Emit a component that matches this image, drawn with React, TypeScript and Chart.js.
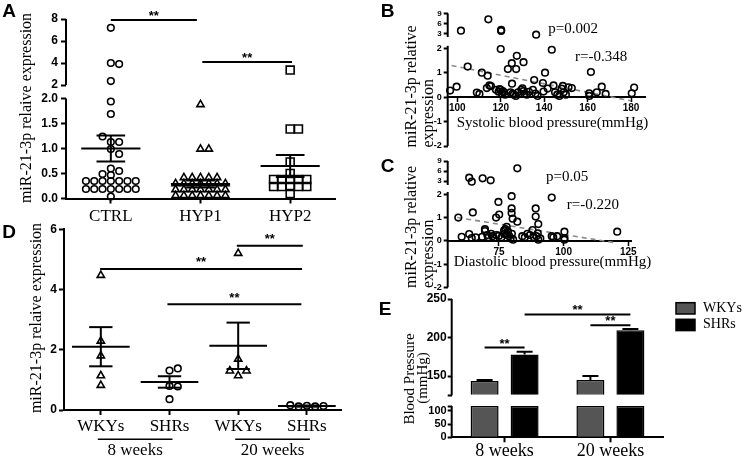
import React, { useEffect, useRef } from 'react';
import { Chart, registerables } from 'chart.js';

Chart.register(...registerables);

const SANS = '"Liberation Sans", Arial, Helvetica, sans-serif';
const SERIF = '"Liberation Serif", "Times New Roman", Times, serif';
const INK = '#000000';
const bold = (px: number) => `bold ${px}px ${SANS}`;
const serif = (px: number) => `${px}px ${SERIF}`;

// ---------------- Panel A data ----------------
const aCategories = ['CTRL', 'HYP1', 'HYP2'];
const aCtrl = [0.35, 0.35, 0.35, 0.35, 0.35, 0.35, 0.35, 0.19, 0.19, 0.19, 0.19, 0.19, 0.19, 0.19, 0.04,
  7.2, 4.0, 3.9, 2.36, 1.94, 1.69, 1.13, 1.13, 1.24, 0.99, 0.89, 0.6, 0.55, 0.49, 0.47];
const aHyp1 = [0.42, 0.42, 0.42, 0.42, 0.42, 0.3, 0.3, 0.3, 0.3, 0.3, 0.3, 0.3, 0.18, 0.18, 0.18, 0.18, 0.18, 0.18, 0.18,
  0.06, 0.06, 0.06, 0.06, 0.06, 0.06, 0.06, 1.88, 0.99, 0.99];
const aHyp2 = [0.38, 0.38, 0.38, 0.38, 0.38, 0.24, 0.24, 0.24, 0.24, 0.24, 0.1, 3.36, 1.39, 1.39, 0.73, 0.5];
const aMeans = [1.0, 0.29, 0.65];
const aSems = [0.26, 0.07, 0.22];
const aLowerTicks = [0, 0.5, 1, 1.5, 2];
const aUpperTicks = [2, 4, 6, 8];
const aBreak = 2.05;
const aSig = [
  { from: 1, to: 1.96, y: 7.9 },
  { from: 2.02, to: 3.02, y: 4.1 },
];

// ---------------- Panel B data ----------------
const bSystolic = [96.7, 99.7, 101.7, 104.8, 109, 110.2, 111.3, 113.6, 114, 114.3, 114.8, 115.5, 117.8, 120.2, 120.2,
  120, 119, 120, 120.5, 121, 122, 119.5, 121.5, 123.3, 125.1, 127.4, 127.1, 130.5, 125.2, 124.5, 125.5, 126, 128,
  129.5, 130, 130.5, 131, 132, 127, 134.8, 135.4, 136.3, 136, 137, 133, 139.7, 140.4, 139.4, 143.5, 141.6, 144.3,
  145, 146, 147, 148.6, 149, 150, 151.2, 152.7, 148, 161.5, 160.7, 160.8, 164.2, 166.5, 168.3, 180.3, 181.4];
const bExpression = [0.27, 0.43, 3.8, 1.25, 0.19, 0.13, 1.0, 0.37, 0.88, 7.2, 0.48, 0.45, 0.3, 4.0, 3.7,
  1.97, 0.22, 0.3, 0.15, 0.25, 0.1, 0.33, 0.2, 1.15, 1.39, 1.69, 1.15, 1.43, 0.55, 0.2, 0.15, 0.1, 0.2,
  0.3, 0.36, 0.25, 0.15, 0.1, 0.05, 0.3, 0.7, 2.6, 0.15, 0.05, 0.22, 0.23, 1.0, 0.58, 1.94, 0.35, 0.48,
  0.2, 0.1, 0.05, 0.46, 0.2, 0.1, 0.4, 0.37, 0.35, 1.03, 0.16, 0.05, 0.2, 0.43, 0.13, 0.16, 0.39];
const bXTicks = [100, 120, 140, 160, 180];
const bLowerTicks = [-2, -1, 0, 1, 2];
const bUpperTicks = [3, 6, 9];
const bRegression = { slope: -0.01752, intercept: 3.0, from: 97.4, to: 180 };

// ---------------- Panel C data ----------------
const cDiastolic = [59.3, 60.6, 63.5, 64.5, 68.7, 71.8, 82.1, 63.5, 64.9, 64.5, 66, 68.5, 69.6, 69.6, 70.5, 71, 72,
  72.5, 73, 74, 73.9, 75.1, 74.8, 75, 76, 77, 77.5, 78, 78.5, 79, 79.5, 80, 80.5, 78, 77, 79.9, 79.9, 79.9, 80.3,
  82.1, 84, 85, 86, 87, 88, 88.5, 89.2, 89.2, 90.2, 90, 90.2, 89.5, 91, 95.4, 95.4, 96, 97.5, 100.3, 100.3, 100.3, 120.7];
const cExpression = [1.0, 0.17, 4.0, 2.8, 3.8, 3.2, 6.8, 0.29, 1.22, 0.12, 0.15, 0.17, 0.5, 0.42, 0.25, 0.15, 0.3,
  0.2, 0.12, 0.25, 1.0, 1.13, 1.67, 0.22, 0.15, 0.3, 0.5, 0.6, 0.4, 0.2, 0.1, 0.3, 0.05, 0.25, 0.45, 1.92, 1.39, 1.2, 0.95,
  0.82, 0.2, 0.15, 0.3, 0.25, 0.46, 0.15, 1.39, 1.04, 0.72, 0.32, 0.05, 0.2, 0.1, 1.86, 0.2, 0.15, 0.2, 0.39, 0.12, 0.05, 0.39];
const cXTicks = [75, 100, 125];
const cLowerTicks = [-2, -1, 0, 1, 2];
const cUpperTicks = [3, 6, 9];
const cRegression = { slope: -0.01777, intercept: 2.047, from: 58.9, to: 119.1 };
const bcBreak = 2.3;

// ---------------- Panel D data ----------------
const dCategories = ['WKYs', 'SHRs', 'WKYs', 'SHRs'];
const dGroups = ['8 weeks', '20 weeks'];
const dWky8 = [4.47, 2.29, 1.8, 1.14, 0.82];
const dShr8 = [1.31, 1.38, 0.8, 0.78, 0.36];
const dWky20 = [5.2, 1.69, 1.14, 1.3, 1.3];
const dShr20 = [0.14, 0.12, 0.12, 0.13, 0.16];
const dMeans = [2.1, 0.93, 2.13, 0.13];
const dSems = [0.65, 0.19, 0.77, 0.02];
const dYTicks = [0, 2, 4, 6];
const dSig = [
  { from: 2.98, to: 3.94, y: 5.45 },
  { from: 0.99, to: 3.93, y: 4.68 },
  { from: 1.97, to: 3.92, y: 3.51 },
];

// ---------------- Panel E data ----------------
const eCategories = ['8 weeks', '20 weeks'];
const eSeries = ['WKYs', 'SHRs'];
const eWky = [143.5, 145];
const eWkyErr = [1.5, 5];
const eShr = [178, 209.5];
const eShrErr = [3.5, 1.5];
const eUpperTicks = [125, 150, 200, 250];
const eLowerTicks = [0, 50, 100, 119];
const eBreakLow = 119;
const eBreakHigh = 125;
const eSig = [
  { a: [0, 0], b: [0, 1], y: 187 },
  { a: [0, 1], b: [1, 1], y: 230 },
  { a: [1, 0], b: [1, 1], y: 216 },
];

// ---------------- helpers ----------------
type Txt = { text: string; x: number; y: number; font: string; align?: CanvasTextAlign; baseline?: CanvasTextBaseline; rotate?: boolean };

const textPlugin = (items: Txt[]) => ({
  id: 'texts',
  afterDraw(chart: any) {
    const ctx = chart.ctx as CanvasRenderingContext2D;
    ctx.save();
    ctx.fillStyle = INK;
    for (const t of items) {
      ctx.save();
      ctx.font = t.font;
      ctx.textAlign = t.align ?? 'center';
      ctx.textBaseline = t.baseline ?? 'middle';
      ctx.translate(t.x, t.y);
      if (t.rotate) ctx.rotate(-Math.PI / 2);
      ctx.fillText(t.text, 0, 0);
      ctx.restore();
    }
    ctx.restore();
  },
});

const axisLinesPlugin = (segs: { axis: string; from: number; to: number }[]) => ({
  id: 'axisLines',
  afterDatasetsDraw(chart: any) {
    const ctx = chart.ctx as CanvasRenderingContext2D;
    const x = chart.chartArea.left;
    ctx.save();
    ctx.strokeStyle = INK;
    ctx.lineWidth = 2;
    for (const s of segs) {
      const sc = chart.scales[s.axis];
      ctx.beginPath();
      ctx.moveTo(x, sc.getPixelForValue(s.from));
      ctx.lineTo(x, sc.getPixelForValue(s.to));
      ctx.stroke();
    }
    ctx.restore();
  },
});

const meanSemPlugin = (means: number[], sems: number[], meanHalf: number, capHalf: number) => ({
  id: 'meanSem',
  afterDatasetsDraw(chart: any) {
    const ctx = chart.ctx as CanvasRenderingContext2D;
    const xs = chart.scales.x;
    const ys = chart.scales.y;
    const seg = (x1: number, y1: number, x2: number, y2: number) => {
      ctx.beginPath();
      ctx.moveTo(xs.getPixelForValue(x1), ys.getPixelForValue(y1));
      ctx.lineTo(xs.getPixelForValue(x2), ys.getPixelForValue(y2));
      ctx.stroke();
    };
    ctx.save();
    ctx.strokeStyle = INK;
    ctx.lineWidth = 2;
    means.forEach((m, i) => {
      const c = i + 1;
      const s = sems[i];
      seg(c - meanHalf, m, c + meanHalf, m);
      seg(c, m - s, c, m + s);
      seg(c - capHalf, m + s, c + capHalf, m + s);
      seg(c - capHalf, m - s, c + capHalf, m - s);
    });
    ctx.restore();
  },
});

const sigPlugin = (sigs: { from: number; to: number; y: number }[], axis: string, raise: number) => ({
  id: 'sig',
  afterDraw(chart: any) {
    const ctx = chart.ctx as CanvasRenderingContext2D;
    const xs = chart.scales.x;
    const ys = chart.scales[axis];
    ctx.save();
    ctx.strokeStyle = INK;
    ctx.fillStyle = INK;
    ctx.lineWidth = 2;
    ctx.font = bold(13);
    ctx.textAlign = 'center';
    ctx.textBaseline = 'alphabetic';
    for (const s of sigs) {
      const x1 = xs.getPixelForValue(s.from);
      const x2 = xs.getPixelForValue(s.to);
      const y = ys.getPixelForValue(s.y);
      ctx.beginPath();
      ctx.moveTo(x1, y);
      ctx.lineTo(x2, y);
      ctx.stroke();
      ctx.fillText('**', (x1 + x2) / 2, y - raise);
    }
    ctx.restore();
  },
});

function swarm(chart: any, values: number[], center: number, axisOf: (v: number) => string, step: number, minDist: number) {
  const xs = chart.scales.x;
  const cx = xs.getPixelForValue(center);
  const placed: { x: number; y: number }[] = [];
  return values.map((v) => {
    const py = chart.scales[axisOf(v)].getPixelForValue(v);
    let px = cx;
    for (let k = 0; k < 80; k++) {
      const n = k === 0 ? 0 : k % 2 === 1 ? (k + 1) / 2 : -k / 2;
      const cand = cx + n * step;
      if (placed.every((p) => Math.hypot(p.x - cand, p.y - py) >= minDist)) {
        px = cand;
        break;
      }
    }
    placed.push({ x: px, y: py });
    return xs.getValueForPixel(px) as number;
  });
}

function yAxis(o: {
  min: number; max: number; ticks: number[]; fmt: (v: number) => string; size: number; width: number;
  tickLength: number; pad: number; stackWeight?: number; order?: number; border?: boolean;
}) {
  const stackOpts = o.stackWeight !== undefined ? { stack: 'left', stackWeight: o.stackWeight, weight: o.order } : {};
  return {
    type: 'linear',
    position: 'left',
    bounds: 'data',
    ...stackOpts,
    min: o.min,
    max: o.max,
    border: { display: !!o.border, width: 2, color: INK },
    grid: { display: true, drawOnChartArea: false, drawTicks: true, tickLength: o.tickLength, tickWidth: 2, tickColor: INK },
    ticks: {
      autoSkip: false, padding: o.pad, color: INK,
      font: { family: SANS, size: o.size, weight: 'bold' },
      callback: (v: any) => o.fmt(Number(v)),
    },
    afterBuildTicks: (s: any) => { s.ticks = o.ticks.map((v) => ({ value: v })); },
    afterFit: (s: any) => { s.width = o.width; },
  };
}

function catXAxis(o: { min: number; max: number; labels: string[]; size: number; pad: number; height: number }) {
  return {
    type: 'linear',
    position: 'bottom',
    bounds: 'data',
    min: o.min,
    max: o.max,
    border: { display: true, width: 2, color: INK },
    grid: { display: true, drawOnChartArea: false, drawTicks: true, tickLength: 5, tickWidth: 2, tickColor: INK },
    ticks: {
      autoSkip: false, maxRotation: 0, padding: o.pad, color: INK,
      font: { family: SERIF, size: o.size },
      callback: (v: any) => o.labels[Math.round(Number(v)) - 1] ?? '',
    },
    afterBuildTicks: (s: any) => { s.ticks = o.labels.map((_, i) => ({ value: i + 1 })); },
    afterFit: (s: any) => { s.height = o.height; },
  };
}

const baseOptions = (padding: any) => ({
  responsive: false,
  maintainAspectRatio: false,
  animation: false,
  devicePixelRatio: 1,
  events: [],
  layout: { padding },
  plugins: { legend: { display: false }, tooltip: { enabled: false }, title: { display: false } },
});

const pointStyle = (style: string, radius: number) => ({
  pointStyle: style,
  pointRadius: radius,
  pointBorderWidth: 1.6,
  pointBorderColor: INK,
  pointBackgroundColor: 'rgba(255,255,255,0)',
  clip: false,
});

// ---------------- Panel A ----------------
function buildA(canvas: HTMLCanvasElement) {
  const groups = [
    { values: aCtrl, style: 'circle', radius: 3.3 },
    { values: aHyp1, style: 'triangle', radius: 4.2 },
    { values: aHyp2, style: 'rect', radius: 5.6 },
  ];
  const isUp = (v: number) => v > aBreak;
  const datasets: any[] = [];
  groups.forEach((g, i) => {
    [false, true].forEach((up) => {
      datasets.push({
        type: 'scatter',
        data: g.values.filter((v) => isUp(v) === up).map((v) => ({ x: i + 1, y: v })),
        yAxisID: up ? 'yTop' : 'y',
        ...pointStyle(g.style, g.radius),
      });
    });
  });
  const chart = new Chart(canvas, {
    type: 'scatter',
    data: { datasets },
    options: {
      ...baseOptions({ top: 19, right: 15, left: 0, bottom: 0 }),
      scales: {
        x: catXAxis({ min: 0.5, max: 3.5, labels: aCategories, size: 17, pad: 3, height: 41.5 }),
        yTop: yAxis({ min: 1.364, max: 8, ticks: aUpperTicks, fmt: (v) => String(v), size: 12, width: 66, tickLength: 5, pad: 3, stackWeight: 73, order: 2 }),
        y: yAxis({ min: 0, max: 2.13, ticks: aLowerTicks, fmt: (v) => v.toFixed(1), size: 12, width: 66, tickLength: 5, pad: 3, stackWeight: 106.5, order: 1 }),
      },
    } as any,
    plugins: [
      axisLinesPlugin([{ axis: 'yTop', from: 8, to: 2 }, { axis: 'y', from: 0, to: 2 }]),
      meanSemPlugin(aMeans, aSems, 0.33, 0.16),
      sigPlugin(aSig, 'yTop', 0),
      textPlugin([
        { text: 'A', x: 9, y: 12, font: bold(19) },
        { text: 'miR-21-3p relaive expression', x: 27, y: 108, font: serif(16), rotate: true },
      ]),
    ] as any,
  });
  groups.forEach((g, i) => {
    const xs = swarm(chart, g.values, i + 1, (v) => (isUp(v) ? 'yTop' : 'y'), 8.3, 6);
    const pts = g.values.map((v, k) => ({ x: xs[k], y: v }));
    chart.data.datasets[2 * i].data = pts.filter((p) => !isUp(p.y)) as any;
    chart.data.datasets[2 * i + 1].data = pts.filter((p) => isUp(p.y)) as any;
  });
  chart.update('none');
  return chart;
}

// ---------------- Panels B & C ----------------
function buildCorrelation(canvas: HTMLCanvasElement, cfg: any) {
  const isUp = (v: number) => v > bcBreak;
  const pts = cfg.xs.map((x: number, i: number) => ({ x, y: cfg.ys[i] }));
  const reg = cfg.reg;
  const chart = new Chart(canvas, {
    type: 'scatter',
    data: {
      datasets: [
        { type: 'scatter', data: pts.filter((p: any) => !isUp(p.y)), yAxisID: 'y', ...pointStyle('circle', 3.3) },
        { type: 'scatter', data: pts.filter((p: any) => isUp(p.y)), yAxisID: 'yTop', ...pointStyle('circle', 3.3) },
        {
          type: 'line',
          data: [reg.from, reg.to].map((x: number) => ({ x, y: reg.intercept + reg.slope * x })),
          yAxisID: 'y', borderColor: '#8a8a8a', borderWidth: 1.6, borderDash: [5, 4], pointRadius: 0, fill: false,
        },
      ] as any,
    },
    options: {
      ...baseOptions(cfg.padding),
      scales: {
        x: {
          type: 'linear', position: { y: 0 }, bounds: 'data', min: cfg.xMin, max: cfg.xMax,
          border: { display: true, width: 2, color: INK },
          grid: { display: true, drawOnChartArea: false, drawTicks: true, tickLength: 4, tickWidth: 1.5, tickColor: INK },
          ticks: { autoSkip: false, maxRotation: 0, padding: 1, color: INK, font: { family: SANS, size: 10, weight: 'bold' } },
          afterBuildTicks: (s: any) => { s.ticks = cfg.xTicks.map((v: number) => ({ value: v })); },
        },
        yTop: yAxis({ min: cfg.upper.min, max: 9, ticks: cfg.upper.ticks, fmt: (v) => String(v), size: 8, width: 77.7, tickLength: 4, pad: 2, stackWeight: cfg.upper.weight, order: 2 }),
        y: yAxis({ min: -2, max: cfg.lower.max, ticks: cfg.lower.ticks, fmt: (v) => String(v), size: 9, width: 77.7, tickLength: 4, pad: 2, stackWeight: cfg.lower.weight, order: 1 }),
      },
    } as any,
    plugins: [
      axisLinesPlugin([{ axis: 'yTop', from: 9, to: cfg.upper.lineTo }, { axis: 'y', from: -2, to: cfg.lower.lineTo }]),
      textPlugin(cfg.texts),
    ] as any,
  });
  return chart;
}

function buildB(canvas: HTMLCanvasElement) {
  return buildCorrelation(canvas, {
    xs: bSystolic, ys: bExpression, xMin: 95.6, xMax: 186.4, xTicks: bXTicks, reg: bRegression,
    padding: { top: 13.3, right: 100, bottom: 9, left: 0 },
    upper: { min: 0.54, ticks: bUpperTicks, weight: 28.2, lineTo: 1.9 },
    lower: { max: 2.278, ticks: bLowerTicks, weight: 104.5, lineTo: 2.1 },
    texts: [
      { text: 'B', x: 17.5, y: 11.5, font: bold(19) },
      { text: 'miR-21-3p relative', x: 41.7, y: 147.5, font: serif(16), rotate: true, align: 'left' },
      { text: 'expression', x: 58.3, y: 147.5, font: serif(16), rotate: true, align: 'left' },
      { text: 'p=0.002', x: 178.3, y: 29.3, font: serif(15), align: 'left' },
      { text: 'r=-0.348', x: 205, y: 57.3, font: serif(15), align: 'left' },
      { text: 'Systolic blood pressure(mmHg)', x: 182.5, y: 123.3, font: serif(15) },
    ],
  });
}

function buildC(canvas: HTMLCanvasElement) {
  return buildCorrelation(canvas, {
    xs: cDiastolic, ys: cExpression, xMin: 55.2, xMax: 126.3, xTicks: cXTicks, reg: cRegression,
    padding: { top: 11, right: 113.3, bottom: 12.7, left: 0 },
    upper: { min: 0.9, ticks: cUpperTicks, weight: 27, lineTo: 1.8 },
    lower: { max: 2.27, ticks: cLowerTicks, weight: 99.3, lineTo: 2.1 },
    texts: [
      { text: 'C', x: 17.5, y: 17, font: bold(19) },
      { text: 'miR-21-3p relative', x: 41.7, y: 138, font: serif(16), rotate: true, align: 'left' },
      { text: 'expression', x: 58.3, y: 138, font: serif(16), rotate: true, align: 'left' },
      { text: 'p=0.05', x: 176, y: 26.7, font: serif(15), align: 'left' },
      { text: 'r=-0.220', x: 196.7, y: 55, font: serif(15), align: 'left' },
      { text: 'Diastolic blood pressure(mmHg)', x: 182.5, y: 112.3, font: serif(15) },
    ],
  });
}

// ---------------- Panel D ----------------
function buildD(canvas: HTMLCanvasElement) {
  const groups = [
    { values: dWky8, style: 'triangle', radius: 4.2 },
    { values: dShr8, style: 'circle', radius: 3.3 },
    { values: dWky20, style: 'triangle', radius: 4.2 },
    { values: dShr20, style: 'circle', radius: 3.3 },
  ];
  const datasets = groups.map((g, i) => ({
    type: 'scatter',
    data: g.values.map((v) => ({ x: i + 1, y: v })),
    yAxisID: 'y',
    ...pointStyle(g.style, g.radius),
  }));
  const groupLabels = {
    id: 'groupLabels',
    afterDraw(chart: any) {
      const ctx = chart.ctx as CanvasRenderingContext2D;
      const xs = chart.scales.x;
      ctx.save();
      ctx.strokeStyle = INK;
      ctx.fillStyle = INK;
      ctx.lineWidth = 1.5;
      ctx.font = serif(17);
      ctx.textAlign = 'center';
      ctx.textBaseline = 'middle';
      dGroups.forEach((label, gi) => {
        const x1 = xs.getPixelForValue(2 * gi + 1);
        const x2 = xs.getPixelForValue(2 * gi + 2);
        ctx.beginPath();
        ctx.moveTo(x1 - 3, 219.3);
        ctx.lineTo(x2 + 3, 219.3);
        ctx.stroke();
        ctx.fillText(label, (x1 + x2) / 2, 231);
      });
      ctx.restore();
    },
  };
  const chart = new Chart(canvas, {
    type: 'scatter',
    data: { datasets: datasets as any },
    options: {
      ...baseOptions({ top: 6.5, right: 18.3, left: 0, bottom: 0 }),
      scales: {
        x: catXAxis({ min: 0.464, max: 4.507, labels: dCategories, size: 17, pad: 1.5, height: 49 }),
        y: yAxis({ min: 0, max: 6, ticks: dYTicks, fmt: (v) => String(v), size: 12, width: 64, tickLength: 5, pad: 2, border: true }),
      },
    } as any,
    plugins: [
      meanSemPlugin(dMeans, dSems, 0.42, 0.17),
      sigPlugin(dSig, 'y', 2.5),
      groupLabels,
      textPlugin([
        { text: 'D', x: 9, y: 13, font: bold(19) },
        { text: 'miR-21-3p relaive expression', x: 37, y: 98, font: serif(16), rotate: true },
      ]),
    ] as any,
  });
  groups.forEach((g, i) => {
    const xs = swarm(chart, g.values, i + 1, () => 'y', 8.3, 6);
    chart.data.datasets[i].data = g.values.map((v, k) => ({ x: xs[k], y: v })) as any;
  });
  chart.update('none');
  return chart;
}

// ---------------- Panel E ----------------
function buildE(canvas: HTMLCanvasElement) {
  const colors = ['#555555', '#000000'];
  const stacks = ['wky', 'shr'];
  const seriesValues = [eWky, eShr];
  const seriesErr = [eWkyErr, eShrErr];
  const datasets: any[] = [];
  [false, true].forEach((up) => {
    seriesValues.forEach((vals, si) => {
      const ds: any = {
        type: 'bar',
        label: eSeries[si],
        stack: stacks[si],
        yAxisID: up ? 'yTop' : 'y',
        data: up ? vals : vals.map((v) => Math.min(v, eBreakLow)),
        backgroundColor: colors[si],
        borderColor: INK,
        borderWidth: 1.5,
        categoryPercentage: 0.756,
        barPercentage: 0.7,
      };
      if (up) ds.base = eBreakHigh;
      datasets.push(ds);
    });
  });
  const errPlugin = {
    id: 'errBars',
    afterDatasetsDraw(chart: any) {
      const ctx = chart.ctx as CanvasRenderingContext2D;
      const ys = chart.scales.yTop;
      ctx.save();
      ctx.strokeStyle = INK;
      ctx.lineWidth = 2;
      seriesValues.forEach((vals, si) => {
        const meta = chart.getDatasetMeta(2 + si);
        meta.data.forEach((bar: any, j: number) => {
          const y1 = ys.getPixelForValue(vals[j]);
          const y2 = ys.getPixelForValue(vals[j] + seriesErr[si][j]);
          ctx.beginPath();
          ctx.moveTo(bar.x, y1);
          ctx.lineTo(bar.x, y2);
          ctx.moveTo(bar.x - 8, y2);
          ctx.lineTo(bar.x + 8, y2);
          ctx.stroke();
        });
      });
      ctx.restore();
    },
  };
  const sigE = {
    id: 'sigE',
    afterDraw(chart: any) {
      const ctx = chart.ctx as CanvasRenderingContext2D;
      const ys = chart.scales.yTop;
      const barX = (ref: number[]) => chart.getDatasetMeta(2 + ref[1]).data[ref[0]].x;
      ctx.save();
      ctx.strokeStyle = INK;
      ctx.fillStyle = INK;
      ctx.lineWidth = 2;
      ctx.font = bold(13);
      ctx.textAlign = 'center';
      ctx.textBaseline = 'alphabetic';
      eSig.forEach((s) => {
        const x1 = barX(s.a);
        const x2 = barX(s.b);
        const y = ys.getPixelForValue(s.y);
        ctx.beginPath();
        ctx.moveTo(x1, y);
        ctx.lineTo(x2, y);
        ctx.stroke();
        ctx.fillText('**', (x1 + x2) / 2, y);
      });
      // legend
      ctx.font = serif(14);
      ctx.textAlign = 'left';
      ctx.textBaseline = 'middle';
      eSeries.forEach((name, si) => {
        const top = 22.7 + si * 16.6;
        ctx.fillStyle = colors[si];
        ctx.fillRect(306, top, 19, 11.3);
        ctx.lineWidth = 1.5;
        ctx.strokeStyle = INK;
        ctx.strokeRect(306, top, 19, 11.3);
        ctx.fillStyle = INK;
        ctx.fillText(name, 333, top + 5.2);
      });
      ctx.restore();
    },
  };
  const fmt = (v: number) => (v === eBreakLow || v === eBreakHigh ? '' : String(v));
  const chart = new Chart(canvas, {
    type: 'bar',
    data: { labels: eCategories, datasets },
    options: {
      ...baseOptions({ top: 19, right: 81.7, left: 0, bottom: 0 }),
      scales: {
        x: {
          type: 'category', offset: true,
          border: { display: true, width: 2, color: INK },
          grid: { display: true, drawOnChartArea: false, offset: false, drawTicks: true, tickLength: 5, tickWidth: 2, tickColor: INK },
          ticks: { autoSkip: false, maxRotation: 0, padding: 0, color: INK, font: { family: SERIF, size: 18, lineHeight: 1 } },
          afterFit: (s: any) => { s.height = 21.7; },
        },
        yTop: yAxis({ min: eBreakHigh, max: 250, ticks: eUpperTicks, fmt, size: 12, width: 81.7, tickLength: 4, pad: 1, stackWeight: 96.35, order: 2 }),
        y: yAxis({ min: 0, max: 159.5, ticks: eLowerTicks, fmt, size: 11, width: 81.7, tickLength: 4, pad: 1, stackWeight: 41.95, order: 1 }),
      },
    } as any,
    plugins: [
      axisLinesPlugin([{ axis: 'yTop', from: 250, to: eBreakHigh }, { axis: 'y', from: 0, to: eBreakLow }]),
      errPlugin,
      sigE,
      textPlugin([
        { text: 'E', x: 15, y: 30, font: bold(19) },
        { text: 'Blood Pressure', x: 40, y: 99, font: serif(15), rotate: true },
        { text: '(mmHg)', x: 53, y: 98, font: serif(15), rotate: true },
      ]),
    ] as any,
  });
  return chart;
}

// ---------------- React ----------------
function ChartBox({ left, top, width, height, build }: { left: number; top: number; width: number; height: number; build: (c: HTMLCanvasElement) => Chart }) {
  const ref = useRef<HTMLCanvasElement>(null);
  useEffect(() => {
    if (!ref.current) return;
    const chart = build(ref.current);
    return () => chart.destroy();
  }, []);
  return (
    <div style={{ position: 'absolute', left, top, width, height }}>
      <canvas ref={ref} width={width} height={height} style={{ width, height, display: 'block' }} />
    </div>
  );
}

export default function App() {
  return (
    <div style={{ position: 'absolute', left: 0, top: 0, width: 745, height: 459, background: '#ffffff', overflow: 'hidden' }}>
      <ChartBox left={0} top={0} width={350} height={240} build={buildA} />
      <ChartBox left={0} top={220} width={360} height={239} build={buildD} />
      <ChartBox left={370} top={0} width={375} height={155} build={buildB} />
      <ChartBox left={370} top={150} width={375} height={150} build={buildC} />
      <ChartBox left={370} top={280} width={375} height={179} build={buildE} />
    </div>
  );
}
